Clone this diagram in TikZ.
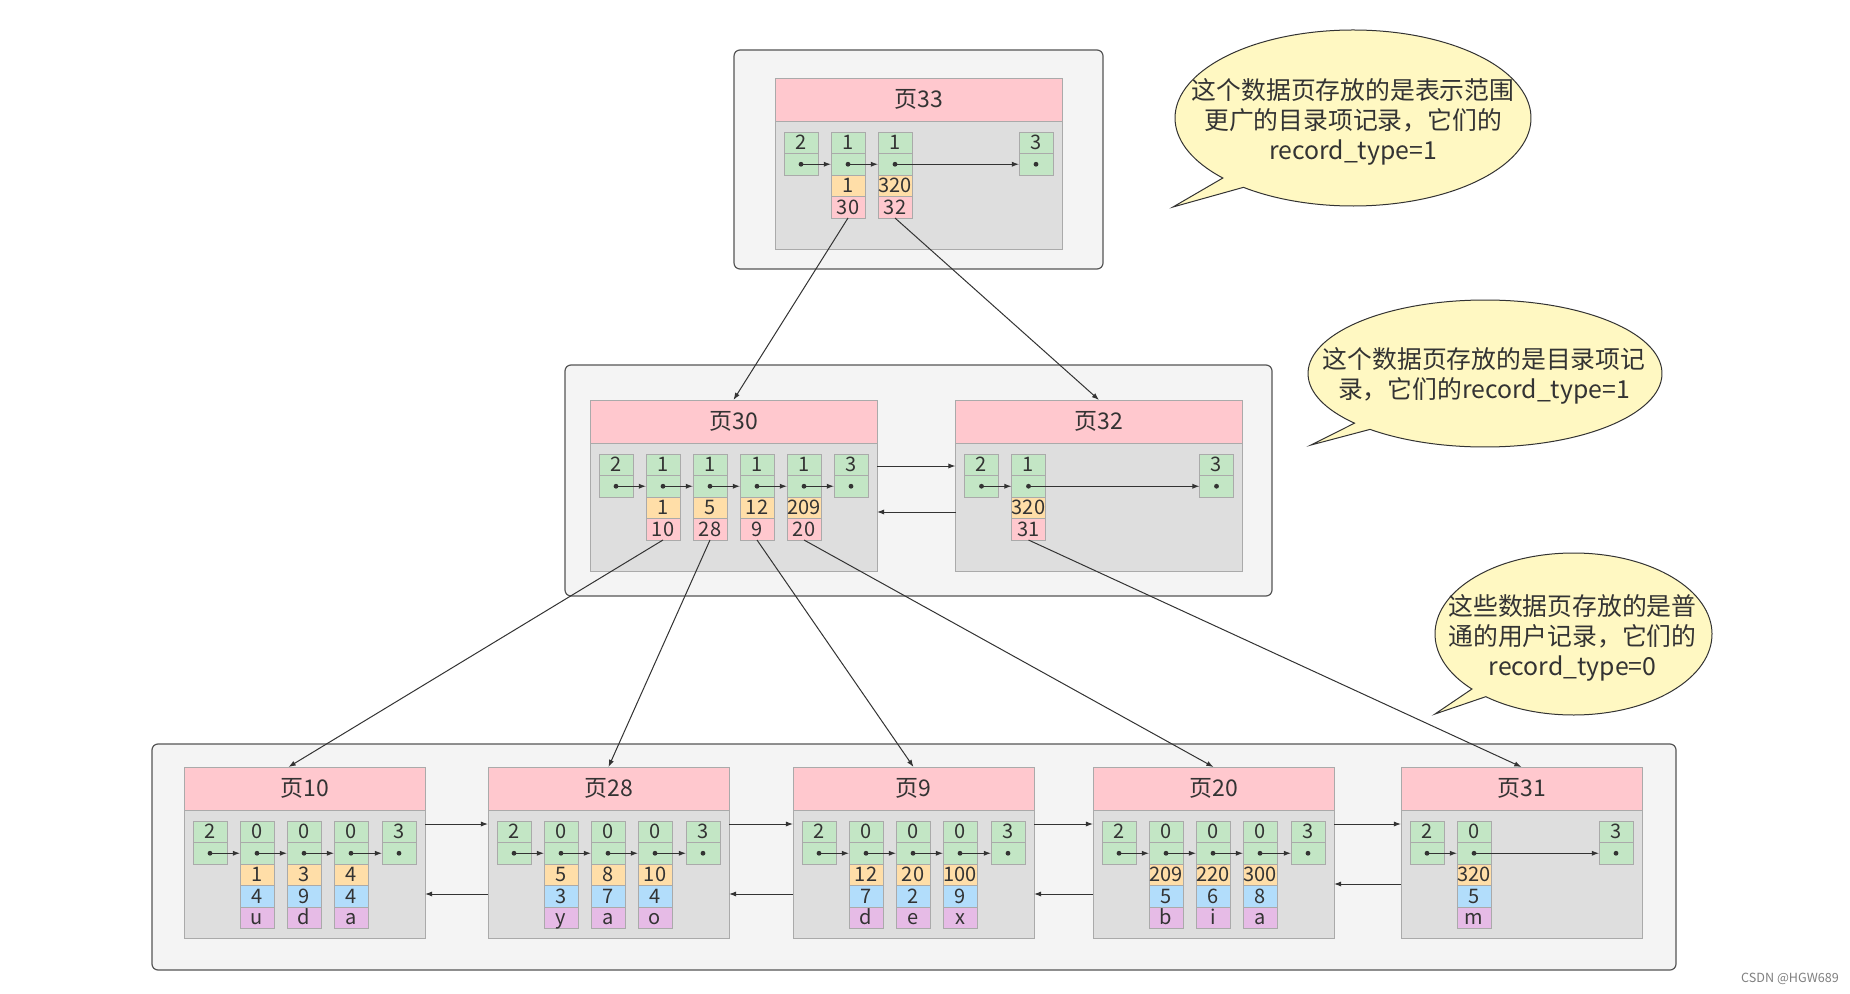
\documentclass[tikz,border=0pt]{standalone}
\usepackage{fontspec}
\setmainfont{Noto Sans CJK SC}
\usetikzlibrary{positioning,arrows.meta}

\definecolor{ink}{HTML}{333333}
\definecolor{groupfill}{HTML}{F4F4F4}
\definecolor{groupline}{HTML}{555555}
\definecolor{boxline}{HTML}{AAAAAA}
\definecolor{headfill}{HTML}{FFC8CE}
\definecolor{bodyfill}{HTML}{DEDEDE}
\definecolor{typefill}{HTML}{C3E6C5}
\definecolor{keyfill}{HTML}{FFDEA8}
\definecolor{ptrfill}{HTML}{FFC8CE}
\definecolor{colfill}{HTML}{B2DDFB}
\definecolor{charfill}{HTML}{E6BBE6}
\definecolor{notefill}{HTML}{FFF8C2}

\tikzstyle{groupbox}=[draw=groupline,fill=groupfill,rounded corners=3pt,line width=0.6pt]
\tikzstyle{pagehead}=[draw=boxline,fill=headfill,minimum height=21.5pt,inner sep=0pt,outer sep=0pt,text=ink,font=\fontsize{11.5}{11.5}\selectfont]
\tikzstyle{pagebody}=[draw=boxline,fill=bodyfill,minimum height=64.25pt,inner sep=0pt,outer sep=0pt]
\tikzstyle{slot}=[draw=boxline,minimum width=17pt,minimum height=10.75pt,inner sep=0pt,outer sep=0pt,text=ink,font=\fontsize{10}{10}\selectfont,text height=7.1pt,text depth=0pt]
\tikzstyle{typecell}=[slot,fill=typefill]
\tikzstyle{keycell}=[slot,fill=keyfill]
\tikzstyle{ptrcell}=[slot,fill=ptrfill]
\tikzstyle{colcell}=[slot,fill=colfill]
\tikzstyle{charcell}=[slot,fill=charfill]
\tikzstyle{nextdot}=[circle,fill=ink,inner sep=0pt,minimum size=2.4pt]
\tikzstyle{conn}=[draw=ink,line width=0.5pt,-{Latex[length=3.6pt,width=2.6pt]}]
\tikzstyle{bubble}=[draw=ink,fill=notefill,line width=0.5pt]
\tikzstyle{bubbletext}=[align=center,text=ink,font=\fontsize{12.4}{15}\selectfont]

\begin{document}
\begin{tikzpicture}[x=0.5pt,y=-0.5pt]
    \path[fill=white,use as bounding box] (0,0) rectangle (1850,994);
    % the three levels
    \draw[groupbox] (734,50) rectangle (1103,269);
    \draw[groupbox] (565,365) rectangle (1272,596);
    \draw[groupbox] (152,744) rectangle (1676,970);

    % pages: header + body
    \foreach \p/\x/\y in {33/918.5/99.5, 30/733.5/421.5, 32/1099/421.5}{
        \node[pagehead,minimum width=143.5pt] (h\p) at (\x,\y) {页\p};
        \node[pagebody,minimum width=143.5pt,below=0pt of h\p] (b\p) {};
    }
    \foreach \p/\x in {10/304.5, 28/608.5, 9/913.5, 20/1213.5, 31/1521.5}{
        \node[pagehead,minimum width=120.5pt] (h\p) at (\x,788.5) {页\p};
        \node[pagebody,minimum width=120.5pt,below=0pt of h\p] (b\p) {};
    }

    % page 33
    \foreach \c/\x/\t in {a/801/2, b/848/1, c/895/1, d/1036/3}{
        \node[typecell,anchor=north] (t33\c) at (\x,132) {\t};
        \node[typecell,below=0pt of t33\c] (n33\c) {};
        \node[nextdot] (d33\c) at (n33\c) {};
    }
    \foreach \c/\k/\q in {b/1/30, c/320/32}{
        \node[keycell,below=0pt of n33\c] (k33\c) {\k};
        \node[ptrcell,below=0pt of k33\c] (q33\c) {\q};
    }
    \foreach \a/\b in {a/b, b/c, c/d}
        \draw[conn] (d33\a.center) -- (n33\b.west);

    % page 30 and page 32
    \foreach \c/\x/\t in {a/616/2, b/663/1, c/710/1, d/757/1, e/804/1, f/851/3}{
        \node[typecell,anchor=north] (t30\c) at (\x,454) {\t};
        \node[typecell,below=0pt of t30\c] (n30\c) {};
        \node[nextdot] (d30\c) at (n30\c) {};
    }
    \foreach \c/\x/\t in {a/981.5/2, b/1028.5/1, c/1216.5/3}{
        \node[typecell,anchor=north] (t32\c) at (\x,454) {\t};
        \node[typecell,below=0pt of t32\c] (n32\c) {};
        \node[nextdot] (d32\c) at (n32\c) {};
    }
    \foreach \p/\c/\k/\q in {30/b/1/10, 30/c/5/28, 30/d/12/9, 30/e/209/20, 32/b/320/31}{
        \node[keycell,below=0pt of n\p\c] (k\p\c) {\k};
        \node[ptrcell,below=0pt of k\p\c] (q\p\c) {\q};
    }
    \foreach \a/\b in {a/b, b/c, c/d, d/e, e/f}
        \draw[conn] (d30\a.center) -- (n30\b.west);
    \foreach \a/\b in {a/b, b/c}
        \draw[conn] (d32\a.center) -- (n32\b.west);

    % leaf pages
    \foreach \p/\l in {10/184, 28/488, 9/793, 20/1093}{
        \foreach \c/\dx/\t in {a/26/2, b/73/0, c/120/0, d/167/0, e/215/3}{
            \node[typecell,anchor=north] (t\p\c) at (\l+\dx,821) {\t};
            \node[typecell,below=0pt of t\p\c] (n\p\c) {};
            \node[nextdot] (d\p\c) at (n\p\c) {};
        }
        \foreach \a/\b in {a/b, b/c, c/d, d/e}
            \draw[conn] (d\p\a.center) -- (n\p\b.west);
    }
    \foreach \c/\x/\t in {a/1427/2, b/1474/0, c/1616/3}{
        \node[typecell,anchor=north] (t31\c) at (\x,821) {\t};
        \node[typecell,below=0pt of t31\c] (n31\c) {};
        \node[nextdot] (d31\c) at (n31\c) {};
    }
    \foreach \a/\b in {a/b, b/c}
        \draw[conn] (d31\a.center) -- (n31\b.west);
    \foreach \p/\c/\k/\v/\s in {10/b/1/4/u, 10/c/3/9/d, 10/d/4/4/a,
                               28/b/5/3/y, 28/c/8/7/a, 28/d/10/4/o,
                               9/b/12/7/d, 9/c/20/2/e, 9/d/100/9/x,
                               20/b/209/5/b, 20/c/220/6/i, 20/d/300/8/a,
                               31/b/320/5/m}{
        \node[keycell,below=0pt of n\p\c] (k\p\c) {\k};
        \node[colcell,below=0pt of k\p\c] (v\p\c) {\v};
        \node[charcell,below=0pt of v\p\c] (s\p\c) {\s};
    }

    % links between neighbour pages
    \draw[conn] ([yshift=-11.5pt]b30.north east) -- ([yshift=-11.5pt]b32.north west);
    \draw[conn] ([yshift=-34.5pt]b32.north west) -- ([yshift=-34.5pt]b30.north east);
    \foreach \a/\b in {10/28, 28/9, 9/20, 20/31}
        \draw[conn] ([yshift=-7pt]b\a.north east) -- ([yshift=-7pt]b\b.north west);
    \foreach \a/\b in {28/10, 9/28, 20/9}
        \draw[conn] ([yshift=-42pt]b\a.north west) -- ([yshift=-42pt]b\b.north east);
    \draw[conn] ([yshift=-37pt]b31.north west) -- ([yshift=-37pt]b20.north east);

    % child pointers
    \draw[conn] (q33b.south) -- (h30.north);
    \draw[conn] (q33c.south) -- (h32.north);
    \draw[conn] (q30b.south) -- ([xshift=-8pt]h10.north);
    \foreach \c/\p in {c/28, d/9, e/20}
        \draw[conn] (q30\c.south) -- (h\p.north);
    \draw[conn] (q32b.south) -- (h31.north);

    % notes
    \coordinate (tip1) at (1173,207);
    \coordinate (tip2) at (1311,445);
    \coordinate (tip3) at (1435,714);
    \draw[bubble] (1353,118) ++(232:89pt and 44pt)
        arc[start angle=232,end angle=583,x radius=89pt,y radius=44pt] -- (tip1) -- cycle;
    \draw[bubble] (1485,373.5) ++(229.5:88.5pt and 36.75pt)
        arc[start angle=229.5,end angle=582.5,x radius=88.5pt,y radius=36.75pt] -- (tip2) -- cycle;
    \draw[bubble] (1573.5,634) ++(230.7:69.25pt and 40.5pt)
        arc[start angle=230.7,end angle=582.8,x radius=69.25pt,y radius=40.5pt] -- (tip3) -- cycle;
    \node[bubbletext] (note1) at (1353,122) {这个数据页存放的是表示范围\\更广的目录项记录，它们的\\record\_type=1};
    \node[bubbletext] (note2) at (1484,376) {这个数据页存放的是目录项记\\录，它们的record\_type=1};
    \node[bubbletext] (note3) at (1572.5,637.5) {这些数据页存放的是普\\通的用户记录，它们的\\record\_type=0};

    \node[text=gray,font=\fontsize{6.3}{7}\selectfont] (mark) at (1790,979) {CSDN @HGW689};
\end{tikzpicture}
\end{document}
